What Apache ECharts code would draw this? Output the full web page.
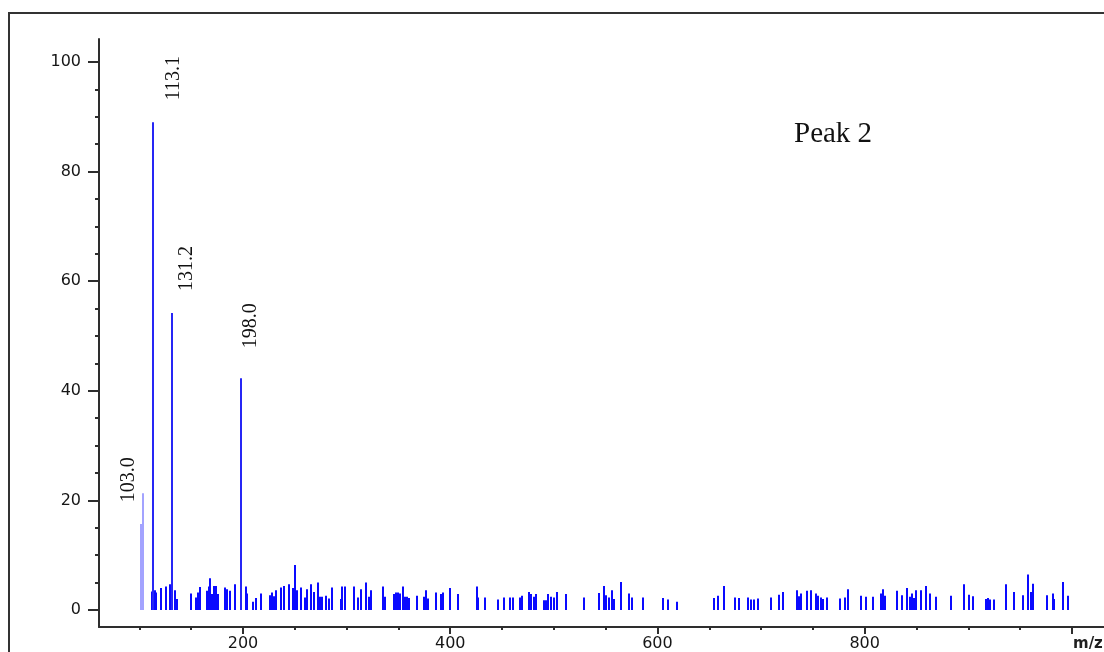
<!DOCTYPE html>
<html>
<head>
<meta charset="utf-8">
<script src="https://cdn.jsdelivr.net/npm/echarts@6/dist/echarts.min.js"></script>
<style>
  html, body { margin: 0; padding: 0; background: #ffffff; }
  #chart { width: 1104px; height: 652px; }
</style>
</head>
<body>
<div id="chart"></div>
<script>
// Labelled fragment peaks (m/z, relative intensity %)
const peakMz = [103.0, 113.1, 131.2, 198.0];
const peakIntensity = [21.3, 89.0, 54.2, 42.3];

// Unlabelled shoulder line next to m/z 103
const shoulderMz = [102.0];
const shoulderIntensity = [15.7];

// Low-level background lines
const noiseMz = [
  112.0, 114.6, 116.3, 120.8, 126.0, 129.1, 133.9, 136.0, 149.6, 155.1,
  156.6, 158.5, 165.3, 166.7, 168.1, 170.1, 172.0, 173.9, 175.9, 182.6,
  184.6, 187.0, 192.3, 202.4, 203.9, 209.2, 212.5, 216.9, 226.1, 228.0,
  229.9, 231.9, 236.2, 239.4, 244.4, 247.8, 249.9, 252.1, 256.0, 259.4,
  261.8, 265.6, 268.8, 271.9, 274.3, 276.7, 280.1, 283.0, 285.6, 294.6,
  296.0, 298.0, 307.1, 311.3, 313.9, 318.5, 321.6, 323.6, 334.8, 337.1,
  345.6, 347.7, 349.6, 351.5, 354.0, 355.9, 358.3, 360.2, 367.5, 374.7,
  376.4, 378.6, 386.1, 391.1, 393.3, 399.8, 407.8, 425.4, 427.0, 433.8,
  445.7, 451.9, 457.7, 460.9, 467.4, 469.3, 476.3, 478.0, 480.4, 482.8,
  490.1, 492.0, 494.4, 497.3, 500.2, 503.1, 511.8, 528.7, 543.8, 548.6,
  550.4, 552.8, 556.2, 558.1, 564.7, 572.1, 575.0, 585.9, 605.4, 610.2,
  618.9, 654.8, 658.7, 664.6, 674.9, 678.6, 687.3, 689.9, 693.0, 697.3,
  709.5, 717.4, 721.2, 734.7, 736.7, 738.6, 744.4, 748.3, 753.1, 755.0,
  757.4, 759.4, 763.7, 776.3, 781.1, 784.3, 796.5, 801.4, 807.6, 815.8,
  817.8, 819.7, 831.3, 836.1, 840.9, 843.3, 845.8, 847.7, 849.6, 854.0,
  859.3, 863.1, 868.9, 883.4, 896.0, 900.3, 904.2, 917.2, 919.1, 921.0,
  924.9, 936.8, 943.7, 952.4, 957.7, 960.6, 962.5, 976.1, 981.4, 982.8,
  991.5, 995.9
];
const noiseIntensity = [
  3.4, 3.6, 3.2, 4.0, 4.3, 4.7, 3.6, 2.0, 3.0, 2.3,
  3.2, 4.2, 3.5, 4.3, 5.8, 2.9, 4.4, 4.4, 2.9, 4.1,
  3.8, 3.5, 4.7, 4.3, 3.0, 1.5, 2.2, 3.0, 2.7, 3.2,
  2.5, 3.6, 4.1, 4.4, 4.7, 4.0, 8.2, 3.6, 4.1, 2.3,
  3.8, 4.7, 3.3, 5.0, 2.4, 2.4, 2.6, 2.1, 4.1, 2.0,
  4.3, 4.3, 4.3, 2.3, 3.8, 5.0, 2.4, 3.6, 4.3, 2.4,
  2.9, 3.2, 3.2, 3.0, 4.3, 2.4, 2.4, 2.2, 2.6, 2.4,
  3.6, 2.1, 3.2, 2.9, 3.2, 4.0, 2.9, 4.3, 2.3, 2.3,
  1.9, 2.3, 2.3, 2.3, 2.3, 2.6, 3.3, 2.9, 2.4, 2.9,
  1.8, 1.8, 2.9, 2.4, 2.3, 3.3, 2.9, 2.3, 3.1, 4.4,
  2.7, 2.3, 3.6, 2.0, 5.1, 3.0, 2.3, 2.3, 2.2, 1.9,
  1.5, 2.2, 2.6, 4.4, 2.3, 2.2, 2.3, 1.9, 1.9, 2.1,
  2.3, 2.8, 3.3, 3.6, 2.5, 3.0, 3.5, 3.6, 3.0, 2.6,
  2.3, 2.0, 2.3, 2.1, 2.3, 3.8, 2.6, 2.4, 2.4, 3.0,
  3.8, 2.6, 3.5, 2.7, 4.0, 2.4, 3.0, 2.2, 3.6, 3.6,
  4.4, 3.0, 2.4, 2.6, 4.7, 2.8, 2.5, 2.0, 2.2, 1.9,
  1.9, 4.7, 3.3, 2.7, 6.5, 3.3, 4.8, 2.7, 3.0, 2.0,
  5.1, 2.6
];

// Axis ticks and labels
const xMajorTicks = [200, 400, 600, 800, 1000];
const xMinorTicks = [100, 150, 200, 250, 300, 350, 400, 450, 500, 550, 600, 650, 700, 750, 800, 850, 900, 950, 1000];
const xLabelValues = [200, 400, 600, 800];
const yMajorTicks = [0, 20, 40, 60, 80, 100];
const yMinorTicks = [0, 5, 10, 15, 20, 25, 30, 35, 40, 45, 50, 55, 60, 65, 70, 75, 80, 85, 90, 95, 100];

const X_MIN = 61, X_MAX = 1031;
const Y_MIN = -3.1, Y_MAX = 104.2;

// Where each peak's rotated label sits, relative to the top of its line (px)
const peakLabelOffsets = [[-14, 9], [21, -22], [15, -22], [10, -30]];

const axisColor = '#2e2e2e';
const tickFont = { fontFamily: 'DejaVu Sans', fontSize: 16, color: '#161616' };
const plotBox = { left: 99, right: 0, top: 39, bottom: 25, containLabel: false, outerBoundsMode: 'none' };

function zip(a, b) { return a.map((v, i) => [v, b[i]]); }

function lineRect(api, width, fill) {
  const mz = api.value(0), h = api.value(1);
  const base = api.coord([mz, 0]);
  const top = api.coord([mz, h]);
  const x = Math.round(base[0]);
  return {
    type: 'rect',
    shape: { x: x - width / 2, y: top[1], width: width, height: base[1] - top[1] },
    style: { fill: fill }
  };
}

const chart = echarts.init(document.getElementById('chart'), null, { renderer: 'canvas' });

chart.setOption({
  animation: false,
  backgroundColor: '#ffffff',
  // grid 0 carries the data, axes and labels; grid 1 overlays it with the short minor ticks
  grid: [Object.assign({}, plotBox), Object.assign({}, plotBox)],
  xAxis: [
    {
      gridIndex: 0, type: 'value', min: X_MIN, max: X_MAX, position: 'bottom',
      axisLine: { show: true, onZero: false, lineStyle: { color: axisColor, width: 2 } },
      axisTick: { show: true, customValues: xMajorTicks, length: 7, lineStyle: { color: axisColor, width: 2 } },
      axisLabel: Object.assign({ customValues: xLabelValues, margin: 9, formatter: v => String(v) }, tickFont),
      splitLine: { show: false }
    },
    {
      gridIndex: 1, type: 'value', min: X_MIN, max: X_MAX, position: 'bottom',
      axisLine: { show: false, onZero: false },
      axisTick: { show: true, customValues: xMinorTicks, length: 3, lineStyle: { color: axisColor, width: 2 } },
      axisLabel: { show: false },
      splitLine: { show: false }
    }
  ],
  yAxis: [
    {
      gridIndex: 0, type: 'value', min: Y_MIN, max: Y_MAX, position: 'left',
      axisLine: { show: true, onZero: false, lineStyle: { color: axisColor, width: 2 } },
      axisTick: { show: true, customValues: yMajorTicks, length: 11, lineStyle: { color: axisColor, width: 2 } },
      axisLabel: Object.assign({ customValues: yMajorTicks, margin: 18 }, tickFont),
      splitLine: { show: false }
    },
    {
      gridIndex: 1, type: 'value', min: Y_MIN, max: Y_MAX, position: 'left',
      axisLine: { show: false, onZero: false },
      axisTick: { show: true, customValues: yMinorTicks, length: 4, lineStyle: { color: axisColor, width: 2 } },
      axisLabel: { show: false },
      splitLine: { show: false }
    }
  ],
  series: [
    {
      name: 'background',
      type: 'custom',
      xAxisIndex: 0, yAxisIndex: 0,
      data: zip(noiseMz, noiseIntensity),
      renderItem: (params, api) => lineRect(api, 2, '#0a0aff')
    },
    {
      name: 'shoulder',
      type: 'custom',
      xAxisIndex: 0, yAxisIndex: 0,
      data: zip(shoulderMz, shoulderIntensity),
      renderItem: (params, api) => lineRect(api, 1, '#4848ff')
    },
    {
      name: 'peaks',
      type: 'custom',
      xAxisIndex: 0, yAxisIndex: 0,
      data: zip(peakMz, peakIntensity),
      renderItem: (params, api) => {
        const mz = api.value(0), h = api.value(1);
        const top = api.coord([mz, h]);
        const first = params.dataIndex === 0;
        const bar = lineRect(api, first ? 1 : 2, first ? '#4848ff' : '#2626f5');
        const off = peakLabelOffsets[params.dataIndex];
        return {
          type: 'group',
          children: [
            bar,
            {
              type: 'text',
              x: Math.round(top[0]) + off[0],
              y: top[1] + off[1],
              rotation: Math.PI / 2,
              style: {
                text: mz.toFixed(1),
                font: '20px "Liberation Serif"',
                fill: '#111111',
                align: 'left', verticalAlign: 'middle',
                textAlign: 'left', textVerticalAlign: 'middle'
              }
            }
          ]
        };
      }
    }
  ],
  graphic: [
    {
      type: 'rect', z: 0, silent: true,
      shape: { x: 9, y: 13, width: 1300, height: 900 },
      style: { fill: 'none', stroke: '#333333', lineWidth: 2 }
    },
    {
      type: 'text', z: 10, silent: true,
      x: 794, y: 134,
      style: {
        text: 'Peak 2', font: '29px "Liberation Serif"', fill: '#111111',
        align: 'left', verticalAlign: 'middle', textAlign: 'left', textVerticalAlign: 'middle'
      }
    },
    {
      type: 'text', z: 10, silent: true,
      x: 1073, y: 644,
      style: {
        text: 'm/z', font: 'bold 15px "DejaVu Sans"', fill: '#1f1f1f',
        align: 'left', verticalAlign: 'middle', textAlign: 'left', textVerticalAlign: 'middle'
      }
    }
  ]
});
</script>
</body>
</html>
